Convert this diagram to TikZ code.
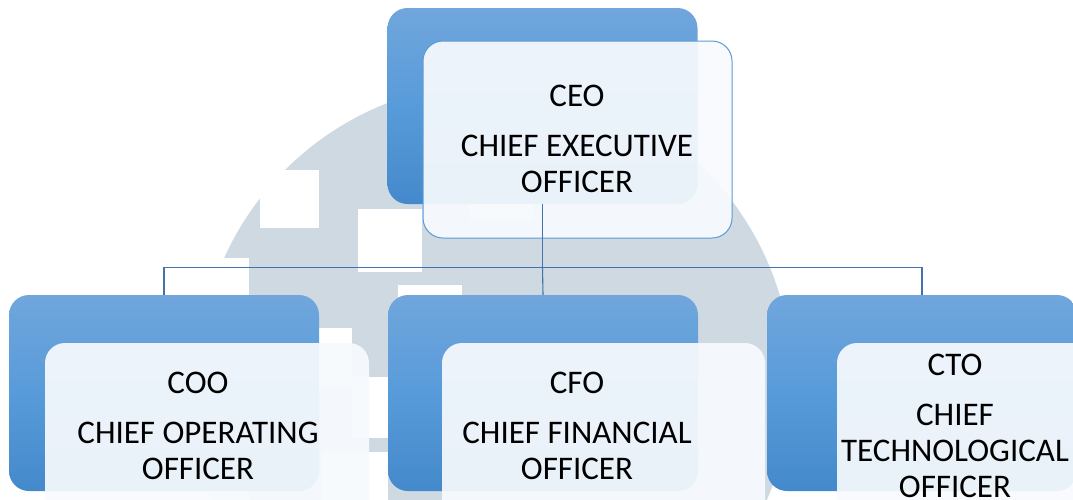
\documentclass[tikz,border=0pt]{standalone}
\usepackage{fontspec}
\setmainfont{Carlito}
\definecolor{boxtop}{RGB}{112,166,220}
\definecolor{boxmid}{RGB}{88,155,218}
\definecolor{boxbot}{RGB}{68,137,203}
\definecolor{frontfill}{RGB}{247,250,253}
\definecolor{frontline}{RGB}{91,155,213}
\definecolor{linkblue}{RGB}{66,114,176}
\definecolor{markgrey}{RGB}{207,217,226}
\begin{document}
\begin{tikzpicture}[x=1pt,y=-1pt]

	\def \toprow{106}
	\def \bottomrow{393}
	\tikzstyle{back-box}=[rounded corners=20pt,top color=boxtop,bottom color=boxbot,middle color=boxmid,minimum width=310pt,minimum height=196pt,inner sep=0pt]
	\tikzstyle{front-box}=[rounded corners=20pt,fill=frontfill,fill opacity=0.93,minimum height=197pt,inner sep=0pt]
	\tikzstyle{f-label}=[align=center,font=\fontsize{33}{36}\selectfont,inner sep=0pt,anchor=north]
	\tikzstyle{link}=[draw=linkblue,line width=1.1pt]

	\useasboundingbox (0,0) rectangle (1073,499);
	\clip (0,0) rectangle (1073,499);

	% watermark
	\fill[markgrey] (495,380) circle[radius=297];
	\fill[white] (260,170) rectangle (319,228);
	\fill[white] (358,209) rectangle (422,272);
	\fill[white] (469,190) rectangle (533,219);
	\fill[white] (210,258) rectangle (249,510);
	\fill[white] (398,285) rectangle (462,300);
	\fill[white] (317,328) rectangle (352,387);
	\fill[white] (352,377) rectangle (388,438);
	\fill[white] (322,452) rectangle (388,510);

	% back boxes
	\node[back-box] (ceoback) at (542.5,\toprow) {};
	\node[back-box] (cooback) at (164,\bottomrow) {};
	\node[back-box] (cfoback) at (543,\bottomrow) {};
	\node[back-box] (ctoback) at (922,\bottomrow) {};

	% front boxes
	\node[front-box,draw=frontline,line width=1pt,minimum width=309pt] (ceofront) at (577.5,139.5) {};
	\node[front-box,minimum width=324pt] (coofront) at (207,441.5) {};
	\node[front-box,minimum width=323pt] (cfofront) at (603.5,441.5) {};
	\node[front-box,minimum width=324pt] (ctofront) at (999,441.5) {};

	% links
	\draw[link] (ceoback.south) -- ++(0,63) coordinate (bus);
	\draw[link] (bus) -| (cooback.north);
	\draw[link] (bus) -- (cfoback.north);
	\draw[link] (bus) -| (ctoback.north);

	% labels
	\node[f-label] (ceolabel) at (577,85) {CEO\\[14pt]CHIEF EXECUTIVE\\OFFICER};
	\node[f-label] (coolabel) at (198,372) {COO\\[14pt]CHIEF OPERATING\\OFFICER};
	\node[f-label] (cfolabel) at (577,372) {CFO\\[14pt]CHIEF FINANCIAL\\OFFICER};
	\node[f-label] (ctolabel) at (955,354) {CTO\\[14pt]CHIEF\\TECHNOLOGICAL\\OFFICER};
\end{tikzpicture}
\end{document}
